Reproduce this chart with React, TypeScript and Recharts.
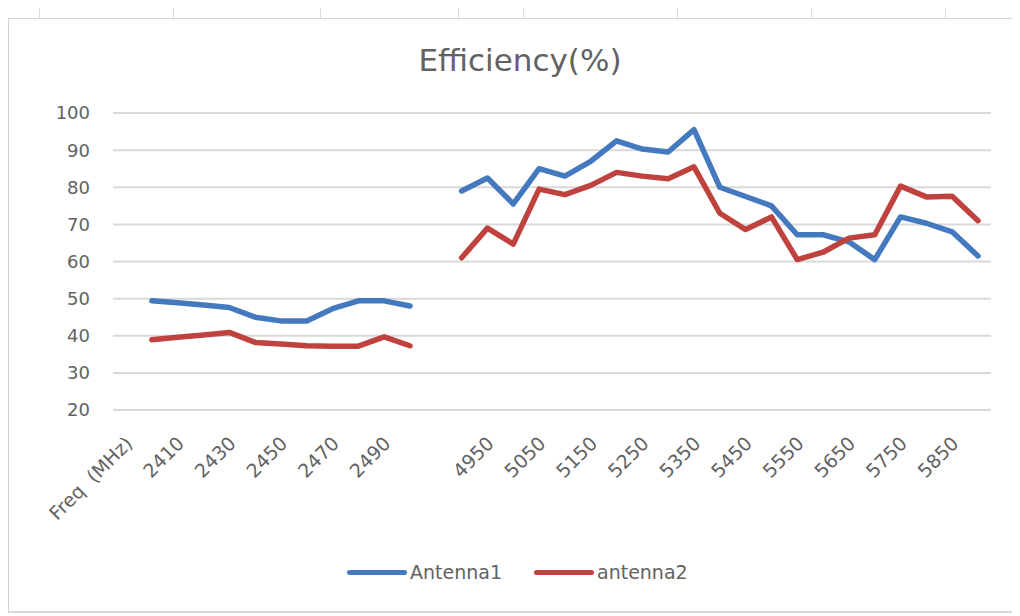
import React from 'react';
import { LineChart, Line, XAxis, YAxis, CartesianGrid, Legend } from 'recharts';

const categories = [
  'Freq \u00a0(MHz)',
  '2400', '2410', '2420', '2430', '2440', '2450', '2460', '2470', '2480', '2490', '2500',
  '',
  '4900', '4950', '5000', '5050', '5100', '5150', '5200', '5250', '5300', '5350', '5400',
  '5450', '5500', '5550', '5600', '5650', '5700', '5750', '5800', '5850', '5900',
];

const antenna1: (number | null)[] = [
  null,
  49.4, 48.9, 48.3, 47.6, 45, 44, 44, 47.3, 49.4, 49.4, 48,
  null,
  79, 82.5, 75.5, 85, 83, 87, 92.5, 90.3, 89.5, 95.5, 80,
  77.5, 75, 67.2, 67.2, 65.3, 60.5, 72, 70.3, 68, 61.5,
];

const antenna2: (number | null)[] = [
  null,
  38.9, 39.6, 40.2, 40.9, 38.2, 37.8, 37.3, 37.2, 37.2, 39.7, 37.3,
  null,
  61, 69, 64.7, 79.5, 78, 80.5, 84, 83, 82.3, 85.5, 73,
  68.6, 72, 60.5, 62.5, 66.3, 67.2, 80.3, 77.4, 77.6, 71,
];

const yTicks = [20, 30, 40, 50, 60, 70, 80, 90, 100];

const BLUE = '#4479c0';
const RED = '#c0423f';
const TEXT = '#626262';
const FONT = 'DejaVu Sans';

const data = categories.map((c, i) => ({ freq: c, a1: antenna1[i], a2: antenna2[i] }));

const XTick = (props: any) => {
  const { x, y, payload } = props;
  return (
    <g transform={`translate(${x + 3},${y + 30})`}>
      <text x={0} y={0} dy="0.35em" textAnchor="end" transform="rotate(-45)" fill={TEXT} fontSize={19} fontFamily={FONT}>
        {payload.value}
      </text>
    </g>
  );
};

const renderLegend = (props: any) => {
  const { payload } = props;
  return (
    <div style={{ display: 'flex', alignItems: 'center', fontFamily: FONT, fontSize: 19, color: TEXT, whiteSpace: 'nowrap' }}>
      {payload.map((p: any, i: number) => (
        <React.Fragment key={i}>
          <span style={{ display: 'inline-block', width: 60, height: 5, background: p.color, borderRadius: 2.5, marginLeft: i === 0 ? 0 : 32 }} />
          <span style={{ marginLeft: 3 }}>{p.value}</span>
        </React.Fragment>
      ))}
    </div>
  );
};

const topTicks = [39, 173, 320, 458, 523, 677, 811, 945];

export default function App() {
  return (
    <div style={{ position: 'relative', width: 1012, height: 608 }}>
      <div style={{ position: 'absolute', left: 0, top: 10, width: 1012, height: 1, background: '#d4d4d4' }} />
      <div style={{ position: 'absolute', left: 0, top: 10, width: 1, height: 594, background: '#d4d4d4' }} />
      <div style={{ position: 'absolute', left: 0, top: 603, width: 1012, height: 2, background: '#d8d8d8' }} />
      {topTicks.map((t) => (
        <div key={t} style={{ position: 'absolute', left: t - 8, top: -8, width: 1, height: 18, background: '#dcdcdc' }} />
      ))}
      <div
        style={{
          position: 'absolute',
          left: 0,
          width: 1024,
          top: 32,
          textAlign: 'center',
          fontFamily: FONT,
          fontSize: 31,
          color: TEXT,
          lineHeight: '40px',
        }}
      >
        Efficiency(%)
      </div>
      <LineChart width={1012} height={608} data={data} margin={{ top: 105, right: 29, left: 50, bottom: 56 }}>
        <CartesianGrid vertical={false} stroke="#d9d9d9" strokeWidth={2} />
        <XAxis
          dataKey="freq"
          interval={1}
          axisLine={false}
          tickLine={false}
          tickSize={0}
          tickMargin={0}
          height={150}
          padding={{ left: 13, right: 13 }}
          tick={<XTick />}
        />
        <YAxis
          domain={[20, 100]}
          ticks={yTicks}
          axisLine={false}
          tickLine={false}
          tickSize={0}
          tickMargin={23}
          width={55}
          tick={{ fill: TEXT, fontSize: 18, fontFamily: FONT }}
        />
        <Legend
          layout="vertical"
          align="center"
          verticalAlign="middle"
          content={renderLegend}
          wrapperStyle={{ left: 339, top: 553, width: 'auto' }}
        />
        <Line type="linear" dataKey="a1" name="Antenna1" stroke={BLUE} strokeWidth={5.5} dot={false} isAnimationActive={false} strokeLinejoin="round" strokeLinecap="round" />
        <Line type="linear" dataKey="a2" name="antenna2" stroke={RED} strokeWidth={5.5} dot={false} isAnimationActive={false} strokeLinejoin="round" strokeLinecap="round" />
      </LineChart>
    </div>
  );
}
